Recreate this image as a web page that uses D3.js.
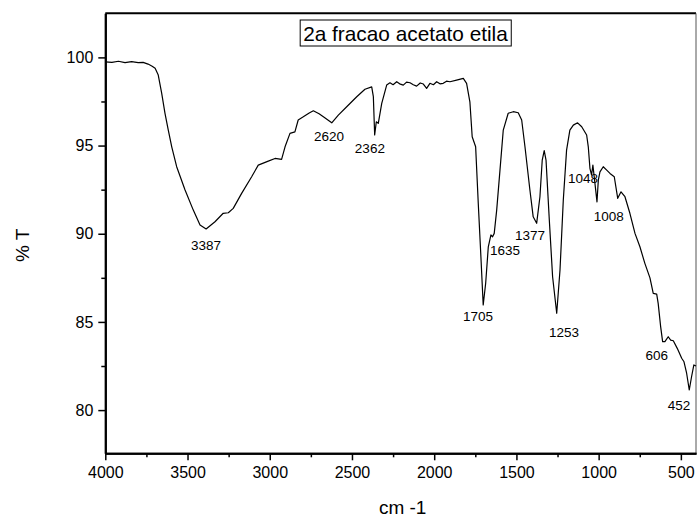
<!DOCTYPE html>
<html>
<head>
<meta charset="utf-8">
<script src="https://cdn.jsdelivr.net/npm/d3@7"></script>
<style>
  html, body { margin: 0; padding: 0; background: #fff; }
  svg { display: block; font-family: "Liberation Sans", Arial, sans-serif; }
</style>
</head>
<body>
<svg id="chart" width="697" height="520"></svg>
<script>
// ---- data ----
const chartTitle = "2a fracao acetato etila";
const xLabel = "cm -1";
const yLabel = "% T";

const wavenumber = [
  4000, 3960, 3920, 3880, 3840, 3800, 3770, 3740, 3715, 3697, 3678, 3657, 3637, 3617, 3596, 3566,
  3515, 3465, 3424, 3387, 3333, 3283, 3252, 3222, 3171, 3110, 3070, 3009, 2968, 2928, 2907, 2877,
  2847, 2827, 2796, 2760, 2735, 2700, 2674, 2623, 2583, 2532, 2471, 2421, 2380, 2370, 2362, 2352,
  2340, 2319, 2289, 2269, 2250, 2228, 2210, 2188, 2168, 2147, 2127, 2107, 2085, 2066, 2046, 2026,
  2005, 1985, 1965, 1945, 1925, 1904, 1864, 1823, 1803, 1783, 1769, 1748, 1732, 1716, 1702, 1687,
  1671, 1655, 1645, 1635, 1620, 1600, 1580, 1550, 1519, 1489, 1468, 1448, 1418, 1398, 1377, 1357,
  1343, 1331, 1320, 1300, 1280, 1255, 1235, 1215, 1195, 1175, 1154, 1128, 1103, 1073, 1063, 1053,
  1043, 1035, 1027, 1010, 1002, 992, 972, 951, 931, 905, 884, 864, 840, 810, 779, 749,
  719, 688, 668, 647, 638, 623, 611, 597, 577, 562, 546, 522, 495, 481, 465, 449,
  435, 421, 408
];
const transmittance = [
  99.75, 99.72, 99.78, 99.70, 99.76, 99.70, 99.72, 99.62, 99.50, 99.38, 99.00, 97.96, 96.83, 95.88, 94.93, 93.80,
  92.48, 91.34, 90.49, 90.27, 90.68, 91.16, 91.19, 91.44, 92.29, 93.23, 93.89, 94.12, 94.27, 94.22, 94.93, 95.69,
  95.78, 96.45, 96.63, 96.85, 96.97, 96.80, 96.63, 96.29, 96.73, 97.20, 97.77, 98.19, 98.33, 97.77, 95.60, 96.35,
  96.26, 97.39, 98.43, 98.56, 98.45, 98.62, 98.50, 98.43, 98.60, 98.56, 98.45, 98.37, 98.55, 98.49, 98.24, 98.53,
  98.45, 98.62, 98.50, 98.53, 98.65, 98.62, 98.71, 98.81, 98.53, 97.48, 95.50, 94.93, 91.72, 88.70, 85.96, 87.19,
  89.26, 89.93, 89.83, 90.02, 91.34, 93.61, 95.88, 96.83, 96.92, 96.86, 96.45, 94.93, 92.48, 90.96, 90.59, 92.10,
  94.18, 94.71, 94.18, 90.78, 87.56, 85.49, 87.94, 91.90, 94.74, 95.88, 96.16, 96.29, 96.07, 95.60, 94.93, 93.71,
  93.33, 93.89, 93.23, 91.81, 93.04, 93.51, 93.80, 93.61, 93.42, 93.23, 92.01, 92.38, 92.10, 91.16, 90.02, 89.26,
  88.32, 87.50, 86.62, 86.58, 86.05, 84.73, 83.88, 83.88, 84.16, 83.97, 83.93, 83.50, 82.94, 82.74, 82.09, 81.14,
  81.89, 82.56, 82.50
];

// peak annotations (text, and the data-space anchor of each label)
const peakText = ["3387", "2620", "2362", "1048", "1705", "1635", "1377", "1253", "1008", "606", "452"];
const peakLabelWn = [3388, 2640, 2391, 1095, 1734, 1570, 1418, 1211, 938, 646, 512];
const peakLabelT = [89.08, 95.26, 94.57, 92.87, 85.05, 88.79, 89.64, 84.14, 90.72, 82.84, 80.0];

const xMajorTicks = [4000, 3500, 3000, 2500, 2000, 1500, 1000, 500];
const xMinorTicks = [3750, 3250, 2750, 2250, 1750, 1250, 750];
const yMajorTicks = [80, 85, 90, 95, 100];
const yMinorTicks = [82.5, 87.5, 92.5, 97.5];

// ---- layout ----
const pLeft = 105.3, pRight = 696, pTop = 13.3, pBottom = 453.3;
const svg = d3.select("#chart");

const x = d3.scaleLinear().domain([4000, 408]).range([pLeft, pRight]);
const y = d3.scaleLinear().domain([77.55, 102.5]).range([pBottom, pTop]);

// frame
svg.append("line").attr("x1", pLeft).attr("x2", pRight).attr("y1", pTop).attr("y2", pTop)
  .attr("stroke", "#000").attr("stroke-width", 2);
svg.append("line").attr("x1", pRight).attr("x2", pRight).attr("y1", pTop).attr("y2", pBottom)
  .attr("stroke", "#555").attr("stroke-width", 1);

// axes
const xAxis = svg.append("g").attr("transform", `translate(0,${pBottom})`)
  .call(d3.axisBottom(x).tickValues(xMajorTicks).tickSize(7).tickSizeOuter(0).tickPadding(6)
    .tickFormat(d3.format("d")));
const xAxisMinor = svg.append("g").attr("transform", `translate(0,${pBottom})`)
  .call(d3.axisBottom(x).tickValues(xMinorTicks).tickSize(4).tickSizeOuter(0).tickFormat(""));
const yAxis = svg.append("g").attr("transform", `translate(${pLeft},0)`)
  .call(d3.axisLeft(y).tickValues(yMajorTicks).tickSize(7).tickSizeOuter(0).tickPadding(5)
    .tickFormat(d3.format("d")));
const yAxisMinor = svg.append("g").attr("transform", `translate(${pLeft},0)`)
  .call(d3.axisLeft(y).tickValues(yMinorTicks).tickSize(4).tickSizeOuter(0).tickFormat(""));

[xAxis, xAxisMinor, yAxis, yAxisMinor].forEach(g => {
  g.select(".domain").attr("stroke", "#000").attr("stroke-width", 2);
  g.selectAll(".tick line").attr("stroke", "#000").attr("stroke-width", 1.5);
  g.selectAll(".tick text").attr("fill", "#000")
    .style("font-family", "'Liberation Sans', Arial, sans-serif").style("font-size", "16px");
});

// axis titles
svg.append("text").attr("x", (pLeft + pRight) / 2 + 2).attr("y", 514)
  .attr("text-anchor", "middle").style("font-size", "19px").text(xLabel);
svg.append("text").attr("transform", `translate(29,${(pTop + pBottom) / 2 + 12}) rotate(-90)`)
  .attr("text-anchor", "middle").style("font-size", "19px").text(yLabel);

// spectrum
const pts = wavenumber.map((w, i) => [w, transmittance[i]]);
svg.append("path").datum(pts)
  .attr("fill", "none").attr("stroke", "#000").attr("stroke-width", 1.2)
  .attr("stroke-linejoin", "round")
  .attr("d", d3.line().x(d => x(d[0])).y(d => y(d[1])));

// peak labels
svg.append("g").selectAll("text").data(peakText).join("text")
  .attr("x", (d, i) => x(peakLabelWn[i]))
  .attr("y", (d, i) => y(peakLabelT[i]))
  .attr("text-anchor", "middle").style("font-size", "13.5px").attr("fill", "#000")
  .text(d => d);

// title box
const titleG = svg.append("g");
const titleRect = titleG.append("rect");
const tt = titleG.append("text").attr("x", 405.5).attr("y", 40.5)
  .attr("text-anchor", "middle").style("font-size", "20.8px").text(chartTitle);
const bb = tt.node().getBBox();
titleRect.attr("x", bb.x - 3).attr("y", 20).attr("width", bb.width + 6).attr("height", 26)
  .attr("fill", "#fff").attr("stroke", "#000").attr("stroke-width", 1);
</script>
</body>
</html>
